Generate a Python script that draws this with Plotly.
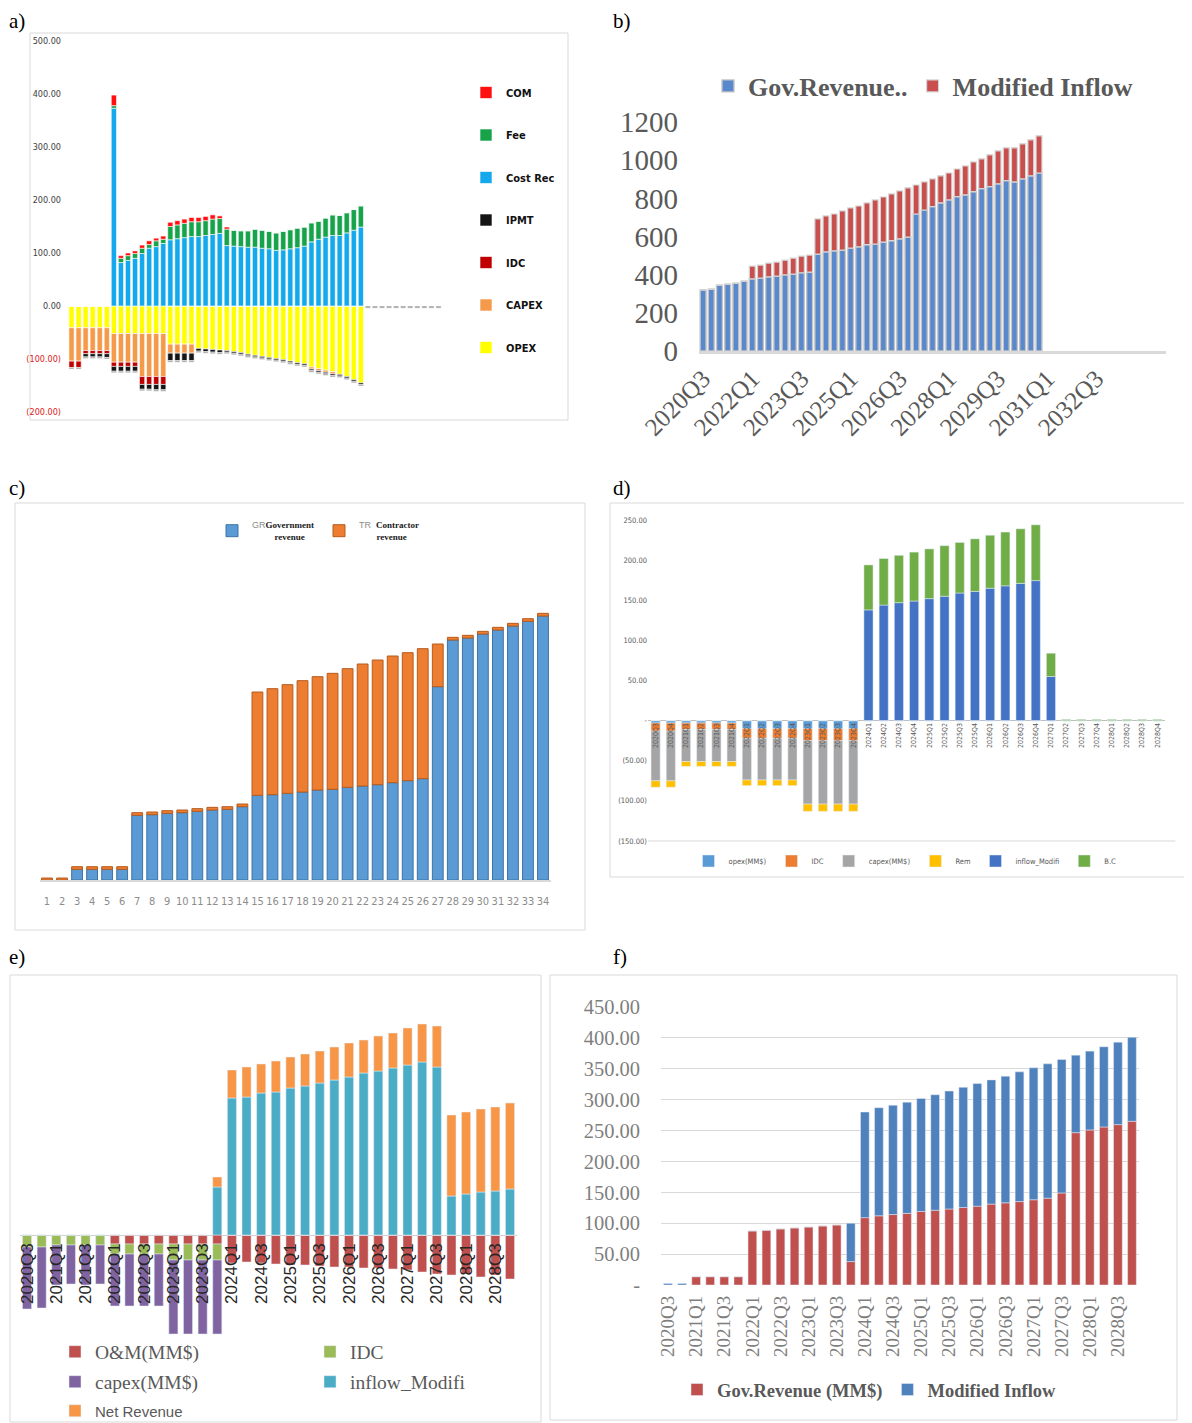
import plotly.graph_objects as go

# The page body adds an 8 px offset, so the figure covers screen pixels 8..1192 x 8..1423.
OFF = 8
W, H = 1192 - OFF, 1423 - OFF

def px_x(x):
    return (x - OFF) / W

def px_y(y):
    return 1 - (y - OFF) / H

def dom_x(x0, x1):
    return [px_x(x0), px_x(x1)]

def dom_y(top, bottom):
    return [px_y(bottom), px_y(top)]

NARROW = "Liberation Sans Narrow, Arial Narrow, DejaVu Sans Condensed, Roboto Condensed, sans-serif"
SERIF = "Liberation Serif, Times New Roman, DejaVu Serif, serif"
SANS = "Liberation Sans, Arial, DejaVu Sans, sans-serif"

# ---------------- categories ----------------
Q34 = ["2020Q3", "2020Q4",
       "2021Q1", "2021Q2", "2021Q3", "2021Q4",
       "2022Q1", "2022Q2", "2022Q3", "2022Q4",
       "2023Q1", "2023Q2", "2023Q3", "2023Q4",
       "2024Q1", "2024Q2", "2024Q3", "2024Q4",
       "2025Q1", "2025Q2", "2025Q3", "2025Q4",
       "2026Q1", "2026Q2", "2026Q3", "2026Q4",
       "2027Q1", "2027Q2", "2027Q3", "2027Q4",
       "2028Q1", "2028Q2", "2028Q3", "2028Q4"]
B_EXTRA = ["2029Q1", "2029Q2", "2029Q3", "2029Q4",
           "2030Q1", "2030Q2", "2030Q3", "2030Q4",
           "2031Q1", "2031Q2", "2031Q3", "2031Q4",
           "2032Q1", "2032Q2", "2032Q3", "2032Q4",
           "2033Q1", "2033Q2", "2033Q3", "2033Q4",
           "2034Q1", "2034Q2", "2034Q3"]
b_quarters = Q34 + B_EXTRA

# ---------------- panel a ----------------
a_periods = list(range(1, 54))
a_opex = [-41, -41, -41, -41, -41, -41, -52, -52, -52, -52, -52, -52, -52, -52,
          -72, -72, -72, -72, -80, -81, -82, -83,
          -84, -86, -88, -91, -93, -95, -97, -99, -101, -104, -107, -109,
          -115, -118, -121, -124, -129, -133, -139, -145,
          0, 0, 0, 0, 0, 0, 0, 0, 0, 0, 0]
a_capex = [-63, -63, -43, -43, -43, -43, -54, -54, -54, -54, -81, -81, -81, -81,
           -17, -17, -17, -17, 0, 0, 0, 0,
           0, 0, 0, 0, 0, 0, 0, 0, 0, 0, 0, 0,
           -4, -4, -4, -4, 0, 0, 0, 0,
           0, 0, 0, 0, 0, 0, 0, 0, 0, 0, 0]
a_idc = [-12, -12, -6, -6, -6, -6, -8, -8, -8, -8, -15, -15, -15, -15,
         0, 0, 0, 0, 0, 0, 0, 0,
         0, 0, 0, 0, 0, 0, 0, 0, 0, 0, 0, 0,
         0, 0, 0, 0, 0, 0, 0, 0,
         0, 0, 0, 0, 0, 0, 0, 0, 0, 0, 0]
a_ipmt = [0, 0, -6, -6, -6, -7, -9, -9, -9, -9, -9, -9, -10, -10,
          -14, -14, -14, -14, -5, -5, -5, -5,
          -3, -3, -3, -3, -3, -3, -3, -3, -3, -3, -3, -3,
          -3, -3, -3, -3, -3, -3, -3, -3,
          0, 0, 0, 0, 0, 0, 0, 0, 0, 0, 0]
a_other = [-3, -3, -3, -3, -3, -3, -3, -3, -3, -3, -3, -3, -3, -3,
           -3, -3, -3, -3, -3, -3, -3, -3,
           -3, -3, -3, -3, -3, -3, -3, -3, -3, -3, -3, -3,
           -3, -3, -3, -3, -3, -3, -3, -3,
           -4, -4, -4, -4, -4, -4, -4, -4, -4, -4, -4]
a_costrec = [0, 0, 0, 0, 0, 0, 373, 82, 86, 90, 99, 109, 112, 118,
             125, 127, 129, 131, 131, 133, 135, 137,
             114, 113, 112, 111, 111, 109, 108, 105, 106, 108, 110, 113,
             121, 126, 130, 133, 133, 138, 143, 149,
             0, 0, 0, 0, 0, 0, 0, 0, 0, 0, 0]
a_fee = [0, 0, 0, 0, 0, 0, 5, 8, 9, 9, 10, 7, 11, 8,
         25, 26, 27, 28, 28, 28, 29, 28,
         31, 30, 30, 31, 34, 34, 33, 33, 35, 36, 37, 36,
         36, 34, 36, 39, 38, 38, 39, 40,
         0, 0, 0, 0, 0, 0, 0, 0, 0, 0, 0]
a_com = [0, 0, 0, 0, 0, 0, 20, 5, 5, 5, 6, 7, 5, 6,
         8, 8, 8, 8, 8, 8, 8, 5,
         4, 0, 0, 0, 0, 0, 0, 0, 0, 0, 0, 0,
         0, 0, 0, 0, 0, 0, 0, 0,
         0, 0, 0, 0, 0, 0, 0, 0, 0, 0, 0]
a_ticks = [-200, -100, 0, 100, 200, 300, 400, 500]
a_ticktext = ['<span style="color:#E02020">(200.00)</span>',
              '<span style="color:#E02020">(100.00)</span>',
              "0.00", "100.00", "200.00", "300.00", "400.00", "500.00"]

# ---------------- panel b ----------------
b_gov = [320, 324, 345, 350, 355, 366, 378, 382, 389, 392, 399, 403, 410, 413,
         508, 520, 525, 529, 539, 546, 557, 560, 571, 578, 588, 597,
         718, 739, 757, 776, 792, 809, 818, 835, 851, 862, 876, 893, 886, 902, 918, 933]
b_mod = [0, 0, 0, 0, 0, 0, 67, 68, 72, 74, 77, 84, 87, 90,
         184, 188, 193, 205, 211, 214, 219, 232, 236, 245, 251, 258,
         152, 147, 145, 142, 141, 145, 152, 156, 156, 166, 173, 172, 179, 184, 189, 195]
b_ticks = [0, 200, 400, 600, 800, 1000, 1200]

# ---------------- panel c ----------------
c_periods = list(range(1, 35))
c_gr = [0, 0, 16, 16, 16, 16, 97, 98, 100, 101, 103, 105, 106, 110,
        127, 128, 130, 132, 135, 136, 139, 141, 143, 146, 149, 152,
        290, 360, 363, 369, 375, 381, 388, 396]
c_tr = [3, 3, 4, 4, 4, 4, 4, 4, 4, 4, 4, 4, 4, 4,
        155, 159, 163, 167, 170, 174, 178, 183, 187, 190, 192, 195,
        64, 4, 4, 4, 4, 4, 4, 4]
NB = "\u00a0"
c_gr_label = ('GR<span style="color:#1a1a1a;font-family:Liberation Serif"><b>Government</b></span><br>'
              + NB * 9 + '<span style="color:#1a1a1a;font-family:Liberation Serif"><b>revenue</b></span>')
c_tr_label = ('TR' + NB * 2 + '<span style="color:#1a1a1a;font-family:Liberation Serif"><b>Contractor</b></span><br>'
              + NB * 7 + '<span style="color:#1a1a1a;font-family:Liberation Serif"><b>revenue</b></span>')

# ---------------- panel d ----------------
d_opex = [-3, -3, -3, -3, -3, -3, -10, -10, -10, -10, -10, -10, -10, -10,
          0, 0, 0, 0, 0, 0, 0, 0, 0, 0, 0, 0, 0, 0, 0, 0, 0, 0, 0, 0]
d_idc = [-10, -10, -8, -8, -8, -8, -12, -12, -12, -12, -15, -15, -15, -15,
         0, 0, 0, 0, 0, 0, 0, 0, 0, 0, 0, 0, 0, 0, 0, 0, 0, 0, 0, 0]
d_capex = [-62, -62, -40, -40, -40, -40, -52, -52, -52, -52, -79, -79, -79, -79,
           0, 0, 0, 0, 0, 0, 0, 0, 0, 0, 0, 0, 0, 0, 0, 0, 0, 0, 0, 0]
d_rem = [-8, -8, -6, -6, -6, -6, -7, -7, -7, -7, -9, -9, -9, -9,
         0, 0, 0, 0, 0, 0, 0, 0, 0, 0, 0, 0, 0, 0, 0, 0, 0, 0, 0, 0]
d_inflow = [0, 0, 0, 0, 0, 0, 0, 0, 0, 0, 0, 0, 0, 0,
            138, 144, 147, 149, 152, 155, 159, 161, 165, 168, 171, 174.5, 55,
            0, 0, 0, 0, 0, 0, 0]
d_bc = [0, 0, 0, 0, 0, 0, 0, 0, 0, 0, 0, 0, 0, 0,
        56, 58, 59, 61, 62, 63, 63, 65.5, 66, 67, 68, 69.5, 29,
        1.5, 1.5, 1.5, 1.5, 1.5, 1.5, 1.5]
d_ticks = [-150, -100, -50, 0, 50, 100, 150, 200, 250]
d_ticktext = ["(150.00)", "(100.00)", "(50.00)", "-", "50.00", "100.00", "150.00", "200.00", "250.00"]

# ---------------- panel e ----------------
e_om = [0, 0, 0, 0, 0, 0, -9, -9, -9, -9, -9, -9, -9, -9,
        -28, -27, -28, -29, -30, -30, -31, -32, -32, -33, -33, -34, -35, -37,
        -39, -40, -39, -42, -40, -44]
e_idc = [-12, -12, -10, -10, -10, -10, -10, -10, -10, -10, -16, -16, -16, -16,
         0, 0, 0, 0, 0, 0, 0, 0, 0, 0, 0, 0, 0, 0, 0, 0, 0, 0, 0, 0]
e_capex = [-62, -61, -40, -39, -40, -39, -52, -52, -52, -52, -74, -74, -74, -74,
           0, 0, 0, 0, 0, 0, 0, 0, 0, 0, 0, 0, 0, 0, 0, 0, 0, 0, 0, 0]
e_inflow = [0, 0, 0, 0, 0, 0, 0, 0, 0, 0, 0, 0, 0, 48,
            137, 138, 142, 143, 147, 149, 152, 155, 158, 162, 164, 167, 170, 173, 168,
            39, 41, 43, 44, 46]
e_net = [0, 0, 0, 0, 0, 0, 0, 0, 0, 0, 0, 0, 0, 10,
         28, 30, 29, 31, 31, 32, 32, 33, 34, 33, 35, 35, 37, 38, 41,
         81, 82, 83, 84, 86]

# ---------------- panel f ----------------
f_gov = [0, 0, 13.5, 13.5, 13.5, 13.5, 87.6, 88.7, 90.9, 92.5, 94, 95.7, 97.3, 37.9,
         109, 112, 114, 116, 119, 121, 123, 125.5, 127.6, 131, 133, 135, 138, 140.6, 149,
         246.6, 251, 255.8, 259.6, 265]
f_mod = [2.5, 2.5, 0, 0, 0, 0, 0, 0, 0, 0, 0, 0, 0, 62.1,
         171, 175, 177, 180, 183, 187, 191, 194.5, 198.4, 201, 205, 210, 213.5, 217.4, 216,
         125.4, 127.6, 129.8, 133.4, 136]
f_ticks = [0, 50, 100, 150, 200, 250, 300, 350, 400, 450]
f_ticktext = ["-", "50.00", "100.00", "150.00", "200.00", "250.00", "300.00", "350.00", "400.00", "450.00"]

fig = go.Figure()

# ---- a traces (negative stack first, then positive) ----
a_series = [("OPEX", a_opex, "#FFFF00", 7), ("CAPEX", a_capex, "#F59A4A", 6),
            ("IDC", a_idc, "#C00000", 5), ("IPMT", a_ipmt, "#151515", 4),
            ("Cost Rec", a_costrec, "#14A9EC", 3), ("Fee", a_fee, "#16A34A", 2),
            ("COM", a_com, "#FF1010", 1)]
for name, vals, col, rank in a_series:
    fig.add_trace(go.Bar(x=a_periods, y=vals, name=name, marker_color=col,
                         marker_line=dict(color="white", width=0.6), width=0.74,
                         xaxis="x", yaxis="y", legend="legend", legendgroup="a_" + name,
                         legendrank=rank))
fig.add_trace(go.Bar(x=a_periods, y=a_other, name="other", marker_color="#A6A6A6",
                     marker_line=dict(color="white", width=0.4), width=0.74,
                     xaxis="x", yaxis="y", showlegend=False))

# ---- b traces ----
fig.add_trace(go.Bar(x=b_quarters[:len(b_gov)], y=b_gov, name="Gov.Revenue..", marker_color="#5A88CC",
                     marker_line=dict(color="#C4C4C4", width=1.4),
                     width=0.72, xaxis="x2", yaxis="y2", legend="legend2"))
fig.add_trace(go.Bar(x=b_quarters[:len(b_mod)], y=b_mod, name="Modified Inflow", marker_color="#C84F4D",
                     marker_line=dict(color="#D6D6D6", width=1.2),
                     width=0.72, xaxis="x2", yaxis="y2", legend="legend2"))

# ---- c traces ----
fig.add_trace(go.Bar(x=c_periods, y=c_gr, name=c_gr_label, marker_color="#5B9BD5",
                     marker_line=dict(color="#3F73A3", width=1), width=0.72,
                     xaxis="x3", yaxis="y3", legend="legend3"))
fig.add_trace(go.Bar(x=c_periods, y=c_tr, name=c_tr_label, marker_color="#ED7D31",
                     marker_line=dict(color="#B65C1E", width=1), width=0.72,
                     xaxis="x3", yaxis="y3", legend="legend3"))

# ---- d traces ----
d_series = [("opex(MM$)", d_opex, "#5B9BD5"), ("IDC", d_idc, "#ED7D31"),
            ("capex(MM$)", d_capex, "#A5A5A5"), ("Rem", d_rem, "#FFC000"),
            ("inflow_Modifi", d_inflow, "#4472C4"), ("B.C", d_bc, "#70AD47")]
for name, vals, col in d_series:
    fig.add_trace(go.Bar(x=Q34, y=vals, name=name, marker_color=col, width=0.6,
                         xaxis="x4", yaxis="y4", legend="legend4"))

# ---- e traces (one legend box per entry) ----
e_series = [("O&M(MM$)", e_om, "#C0504D", "legend5"), ("IDC", e_idc, "#9BBB59", "legend6"),
            ("capex(MM$)", e_capex, "#8064A2", "legend7"), ("inflow_Modifi", e_inflow, "#4BACC6", "legend8"),
            ("Net Revenue", e_net, "#F79646", "legend9")]
for name, vals, col, lg in e_series:
    fig.add_trace(go.Bar(x=Q34, y=vals, name=name, marker_color=col, width=0.62,
                         xaxis="x5", yaxis="y5", legend=lg))

# ---- f traces ----
fig.add_trace(go.Bar(x=Q34, y=f_gov, name="Gov.Revenue (MM$)", marker_color="#C0504D", width=0.62,
                     xaxis="x6", yaxis="y6", legend="legend10"))
fig.add_trace(go.Bar(x=Q34, y=f_mod, name="Modified Inflow", marker_color="#4F81BD", width=0.62,
                     xaxis="x6", yaxis="y6", legend="legend10"))

# ---------------- axes ----------------
d_range = [-155, 255]
d_dom = dom_y(516, 845)
d_zero = d_dom[0] + (0 - d_range[0]) / (d_range[1] - d_range[0]) * (d_dom[1] - d_dom[0])
e_range = [-110, 250]
e_dom = dom_y(985, 1345)
e_zero = e_dom[0] + (0 - e_range[0]) / (e_range[1] - e_range[0]) * (e_dom[1] - e_dom[0])

noaxis = dict(showgrid=False, zeroline=False, showline=False, showticklabels=False, ticks="")
LG = dict(xanchor="left", yanchor="middle", orientation="h", bgcolor="rgba(0,0,0,0)")

layout = dict(
    width=W, height=H, margin=dict(l=0, r=0, t=0, b=0, autoexpand=False),
    paper_bgcolor="white", plot_bgcolor="white", barmode="relative",
    showlegend=True,
    # a
    xaxis=dict(domain=dom_x(68, 442), anchor="y", range=[0.5, 53.5], **noaxis),
    yaxis=dict(domain=dom_y(41, 412), anchor="x", range=[-200, 500], showgrid=False, zeroline=False,
               tickmode="array", tickvals=a_ticks, ticktext=a_ticktext, ticklabelstandoff=6,
               tickfont=dict(family=NARROW, size=9, color="#404040")),
    # b
    xaxis2=dict(domain=dom_x(699, 1166), anchor="y2", type="category", categoryorder="array",
                categoryarray=b_quarters, range=[-0.5, len(b_quarters) - 0.5],
                showline=True, linecolor="#D9D9D9", linewidth=3, showgrid=False, ticks="",
                tickmode="array", tickvals=b_quarters[:50:6], tickangle=-45,
                tickfont=dict(family=SERIF, size=25, color="#595959")),
    yaxis2=dict(domain=dom_y(112.5, 351), anchor="x2", range=[0, 1250], showgrid=False, zeroline=False,
                tickmode="array", tickvals=b_ticks, ticklabelstandoff=20,
                tickfont=dict(family=SERIF, size=29, color="#595959")),
    # c
    xaxis3=dict(domain=dom_x(39.5, 550.5), anchor="y3", range=[0.5, 34.5], showgrid=False,
                zeroline=False, showline=True, linecolor="#D9D9D9", linewidth=2, ticks="",
                tickmode="linear", dtick=1, tick0=1, ticklabelstandoff=10, tickangle=0,
                tickfont=dict(family=NARROW, size=11, color="#8C8C8C")),
    yaxis3=dict(domain=dom_y(560, 880), anchor="x3", range=[0, 480], **noaxis),
    # d
    xaxis4=dict(domain=dom_x(648, 1165), anchor="free", position=d_zero, type="category",
                categoryorder="array", categoryarray=Q34, showgrid=False, showline=False, ticks="",
                tickangle=-90, tickfont=dict(family=NARROW, size=7, color="#595959")),
    yaxis4=dict(domain=d_dom, anchor="x4", range=d_range, showgrid=False, zeroline=True,
                zerolinecolor="#BFBFBF", zerolinewidth=1, tickmode="array", tickvals=d_ticks,
                ticktext=d_ticktext, ticklabelstandoff=0,
                tickfont=dict(family=NARROW, size=7.5, color="#595959")),
    # e
    xaxis5=dict(domain=dom_x(19.7, 517.3), anchor="free", position=e_zero, type="category",
                categoryorder="array", categoryarray=Q34, showgrid=False, showline=False, ticks="",
                tickmode="array", tickvals=Q34[::2], tickangle=-90, ticklabelstandoff=4,
                tickfont=dict(family=SANS, size=17, color="#262626")),
    yaxis5=dict(domain=e_dom, anchor="x5", range=e_range, showgrid=False, zeroline=True,
                zerolinecolor="#D0D0D0", zerolinewidth=1, showticklabels=False, ticks=""),
    # f
    xaxis6=dict(domain=dom_x(661, 1139), anchor="y6", type="category", categoryorder="array",
                categoryarray=Q34, showgrid=False, showline=False, ticks="",
                tickmode="array", tickvals=Q34[::2], tickangle=-90, ticklabelstandoff=6,
                tickfont=dict(family=SERIF, size=19, color="#7F7F7F")),
    yaxis6=dict(domain=dom_y(1007, 1285), anchor="x6", range=[0, 450], showgrid=True,
                gridcolor="#D9D9D9", gridwidth=1, zeroline=False, tickmode="array",
                tickvals=f_ticks, ticktext=f_ticktext, ticklabelstandoff=20,
                tickfont=dict(family=SERIF, size=20.5, color="#7F7F7F")),
    # legends
    legend=dict(x=px_x(466), y=px_y(78), xanchor="left", yanchor="top", orientation="v",
                traceorder="grouped", tracegroupgap=23.5, bgcolor="rgba(0,0,0,0)",
                font=dict(family=NARROW, size=11, color="#111111", weight="bold")),
    legend2=dict(x=px_x(708), y=px_y(86), traceorder="normal",
                 font=dict(family=SERIF, size=26, color="#595959", weight="bold"), **LG),
    legend3=dict(x=px_x(212), y=px_y(531), traceorder="normal",
                 font=dict(family=SANS, size=9, color="#8C8C8C"), **LG),
    legend4=dict(x=px_x(905), y=px_y(861), xanchor="center", yanchor="middle", orientation="h",
                 traceorder="normal", bgcolor="rgba(0,0,0,0)",
                 font=dict(family=NARROW, size=7.5, color="#595959")),
    legend5=dict(x=px_x(55), y=px_y(1352), font=dict(family=SERIF, size=19.5, color="#595959"), **LG),
    legend6=dict(x=px_x(310), y=px_y(1352), font=dict(family=SERIF, size=19.5, color="#595959"), **LG),
    legend7=dict(x=px_x(55), y=px_y(1382), font=dict(family=SERIF, size=19.5, color="#595959"), **LG),
    legend8=dict(x=px_x(310), y=px_y(1382), font=dict(family=SERIF, size=19.5, color="#595959"), **LG),
    legend9=dict(x=px_x(55), y=px_y(1411), font=dict(family=SANS, size=15, color="#595959"), **LG),
    legend10=dict(x=px_x(677), y=px_y(1390), traceorder="normal",
                  font=dict(family=SERIF, size=18.5, color="#595959", weight="bold"), **LG),
)
fig.update_layout(**layout)

# frames around panels
frames = [(30, 33, 568, 420), (15, 503, 585, 930), (610, 503, 1191, 877),
          (10, 975, 541, 1422), (550, 975, 1177, 1420)]
for x0, y0, x1, y1 in frames:
    fig.add_shape(type="rect", xref="paper", yref="paper", x0=px_x(x0), x1=px_x(x1),
                  y0=px_y(y1), y1=px_y(y0), line=dict(color="#D9D9D9", width=1),
                  fillcolor="rgba(0,0,0,0)", layer="below")

# bottom rule of panel d at -150
fig.add_shape(type="line", xref="x4 domain", yref="y4", x0=0, x1=1.02, y0=-150, y1=-150,
              line=dict(color="#D9D9D9", width=1))

# panel letters
for txt, x, y in [("a)", 8, 21), ("b)", 612, 21), ("c)", 8, 488),
                  ("d)", 612, 488), ("e)", 8, 957), ("f)", 612, 957)]:
    fig.add_annotation(text=txt, x=px_x(x), y=px_y(y), xref="paper", yref="paper",
                       xanchor="left", yanchor="middle", showarrow=False, borderpad=0,
                       font=dict(family=SERIF, size=21, color="black"))

fig.write_html("out.html")
